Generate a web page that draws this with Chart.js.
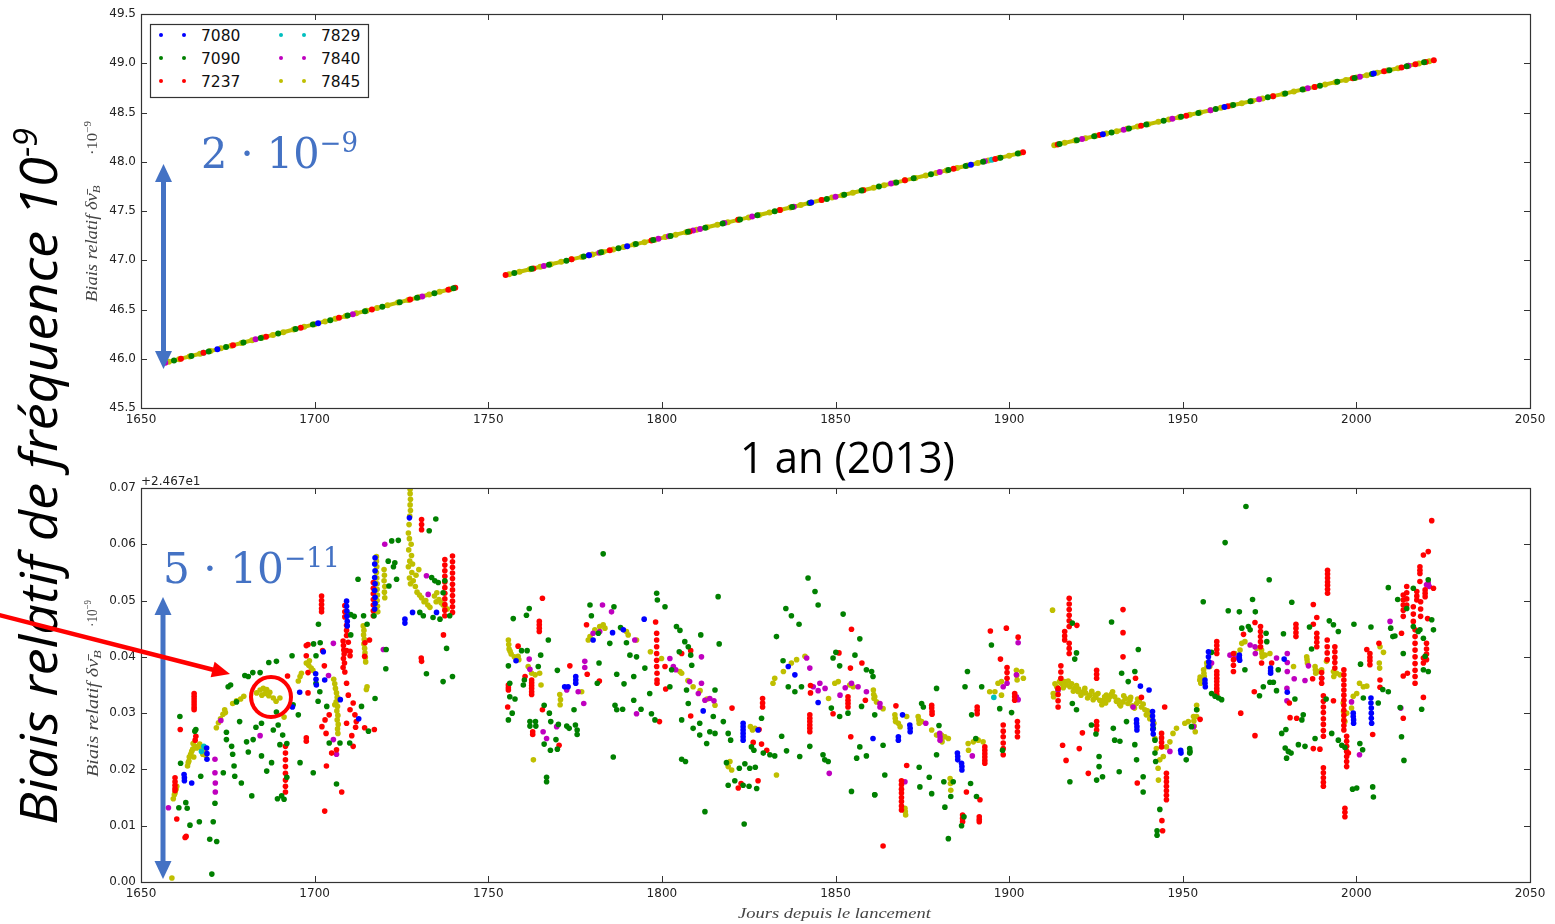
<!DOCTYPE html>
<html>
<head>
<meta charset="utf-8">
<script src="https://cdn.jsdelivr.net/npm/chart.js@4.4.0/dist/chart.umd.min.js"></script>
<style>
  body { margin: 0; background: #fff; width: 1555px; height: 924px; overflow: hidden; position: relative; }
  canvas { position: absolute; left: 0; }
  #topChart { top: 0; }
  #bottomChart { top: 470px; }
  #notes { position: absolute; left: 0; top: 0; }
</style>
</head>
<body>
<canvas id="topChart" width="1555" height="440"></canvas>
<canvas id="bottomChart" width="1555" height="454"></canvas>
<svg id="notes" width="1555" height="924" xmlns="http://www.w3.org/2000/svg">
  <g id="legend"></g>

  <!-- axis labels -->
  <g fill="#444" font-family="Liberation Serif, serif" font-style="italic">
    <text id="ylabTop" font-size="16" transform="translate(97,302) rotate(-90)">Biais relatif δν̄<tspan font-size="11" dy="3">B</tspan></text>
    <text id="ymulTop" font-size="15" transform="translate(97,155) rotate(-90)" font-style="normal">·10<tspan font-size="10" dy="-6">−9</tspan></text>
    <text id="ylabBot" font-size="16" transform="translate(98,777) rotate(-90)">Biais relatif δν̄<tspan font-size="11" dy="3">B</tspan></text>
    <text id="ymulBot" font-size="15" transform="translate(97,627) rotate(-90)" font-style="normal">·10<tspan font-size="10" dy="-6">−9</tspan></text>
    <text id="xlab" font-size="15" transform="translate(738,918)">Jours depuis le lancement</text>
  </g>
  <text x="141" y="485" font-family="DejaVu Sans" font-size="12" fill="#222">+2.467e1</text>

  <!-- big annotations -->
  <text id="bigLab" font-family="Open Sans" font-style="italic" font-size="52" fill="#000"
        transform="translate(57,825) rotate(-90)">Biais relatif de fréquence 10<tspan font-size="32" dy="-20">-9</tspan></text>
  <text id="year" font-family="Open Sans" font-size="44" fill="#000" transform="translate(740,473)">1 an (2013)</text>

  <g fill="#4472C4" font-family="DejaVu Serif">
    <text id="amp1" font-size="43" transform="translate(201,168)">2 · 10<tspan font-size="27" dy="-16">−9</tspan></text>
    <text id="amp2" font-size="43" transform="translate(163,583)">5 · 10<tspan font-size="27" dy="-16">−11</tspan></text>
  </g>

  <!-- blue double arrows -->
  <g fill="#4472C4" stroke="none">
    <rect x="161" y="178" width="5" height="176"/>
    <polygon points="163.5,164 155,182 172,182"/>
    <polygon points="163.5,369 155,351 172,351"/>
    <rect x="160.5" y="611" width="5" height="254"/>
    <polygon points="163,597 154.5,615 171.5,615"/>
    <polygon points="163,879 154.5,861 171.5,861"/>
  </g>

  <!-- red arrow and circle -->
  <line x1="-5" y1="614" x2="214" y2="670" stroke="#ff0000" stroke-width="4.5"/>
  <polygon points="230,674 210.6,677.3 214.6,661.7" fill="#ff0000"/>
  <circle cx="271" cy="697" r="20" fill="none" stroke="#ff0000" stroke-width="4"/>
</svg>

<script>
// series
var seriesNames = ['7080', '7090', '7237', '7829', '7840', '7845'];
var seriesColors = ['#0000ff', '#008000', '#ff0000', '#00bfbf', '#bf00bf', '#bfbf00'];

// top panel: raw relative frequency bias (1e-9), [day, value]
var top7080 = [[1672,46.097],[1701,46.36],[1779,47.051],[1790,47.143],[1843,47.586],[1889,47.97],[1927,48.279],[1962,48.555],[2005,48.895]];
var top7090 = [[1659.5,45.983],[1664.5,46.028],[1669.5,46.074],[1674.5,46.119],[1679.5,46.165],[1684.5,46.21],[1689.5,46.256],[1694.5,46.301],[1699.5,46.347],[1704.5,46.392],[1709.5,46.438],[1714.5,46.483],[1719.5,46.529],[1724.5,46.574],[1729.5,46.62],[1734.5,46.665],[1740,46.715],
  [1757.5,46.871],[1762.5,46.913],[1767.5,46.955],[1772.5,46.996],[1777.5,47.038],[1782.5,47.08],[1787.5,47.122],[1792.5,47.164],[1797.5,47.205],[1802.5,47.247],[1807.5,47.289],[1812.5,47.331],[1817.5,47.373],[1822.5,47.414],[1827.5,47.456],[1832.5,47.498],[1837.5,47.54],[1842.5,47.582],[1847.5,47.623],[1852.5,47.665],[1857.5,47.707],[1862.5,47.749],[1867.5,47.79],[1872.5,47.832],[1877.5,47.874],[1882.5,47.916],[1887.5,47.958],[1892.5,47.999],[1897.5,48.041],[1902.5,48.083],
  [1914.5,48.18],[1919.5,48.219],[1924.5,48.259],[1929.5,48.298],[1934.5,48.338],[1939.5,48.377],[1944.5,48.417],[1949.5,48.456],[1954.5,48.496],[1959.5,48.535],[1964.5,48.575],[1969.5,48.614],[1974.5,48.654],[1979.5,48.693],[1984.5,48.733],[1989.5,48.772],[1994.5,48.812],[1999.5,48.851],[2004.5,48.891],[2009.5,48.93],[2014.5,48.97],[2019.5,49.01]];
var top7237 = [[1661.5,46.0],[1668,46.06],[1676.5,46.137],[1686,46.224],[1696,46.315],[1707,46.415],[1716.5,46.501],[1727.5,46.601],[1738.5,46.701],[1740.5,46.72],
  [1755,46.85],[1763,46.917],[1774,47.009],[1785,47.101],[1797,47.2],[1808,47.293],[1822,47.41],[1834,47.51],[1846,47.611],[1858,47.711],[1870,47.811],[1884,47.929],[1896,48.029],[1904,48.096],
  [1914,48.176],[1926,48.271],[1938,48.365],[1951,48.468],[1963,48.563],[1976,48.666],[1988,48.76],[1999,48.847],[2008,48.918],[2013,48.958],[2017,48.99],[2020,49.013],[2022.3,49.031]];
var top7829 = [[1668,46.06],[1895,48.02]];
var top7840 = [[1657,45.96],[1683,46.197],[1711,46.452],[1731,46.633],
  [1766,46.942],[1779,47.051],[1782,47.076],[1799,47.218],[1802,47.243],[1809,47.301],[1811,47.318],[1818,47.377],[1826,47.444],[1838,47.544],[1850,47.644],[1866,47.778],[1880,47.895],[1893,48.004],
  [1921,48.231],[1933,48.326],[1947,48.437],[1958,48.523],[1972,48.634],[1986,48.745],[2001,48.863],[2015,48.974]];
var top7845 = [[1658,45.969],[1661,45.996],[1664,46.024],[1667,46.051],[1670,46.078],[1673,46.106],[1676,46.133],[1679,46.16],[1682,46.188],[1685,46.215],[1688,46.242],[1691,46.269],[1694,46.297],[1697,46.324],[1700,46.351],[1703,46.379],[1706,46.406],[1709,46.433],[1712,46.461],[1715,46.488],[1718,46.515],[1721,46.542],[1724,46.57],[1727,46.597],[1730,46.624],[1733,46.652],[1736,46.679],[1739,46.706],
  [1756,46.858],[1759,46.883],[1762,46.909],[1765,46.934],[1768,46.959],[1771,46.984],[1774,47.009],[1777,47.034],[1780,47.059],[1783,47.084],[1786,47.109],[1789,47.134],[1792,47.159],[1795,47.184],[1798,47.209],[1801,47.235],[1804,47.26],[1807,47.285],[1810,47.31],[1813,47.335],[1816,47.36],[1819,47.385],[1822,47.41],[1825,47.435],[1828,47.46],[1831,47.485],[1834,47.51],[1837,47.535],[1840,47.561],[1843,47.586],[1846,47.611],[1849,47.636],[1852,47.661],[1855,47.686],[1858,47.711],[1861,47.736],[1864,47.761],[1867,47.786],[1870,47.811],[1873,47.836],[1876,47.861],[1879,47.887],[1882,47.912],[1885,47.937],[1888,47.962],[1891,47.987],[1894,48.012],[1897,48.037],[1900,48.062],[1903,48.087],
  [1913,48.168],[1916,48.192],[1919,48.215],[1922,48.239],[1925,48.263],[1928,48.286],[1931,48.31],[1934,48.334],[1937,48.358],[1940,48.381],[1943,48.405],[1946,48.429],[1949,48.452],[1952,48.476],[1955,48.5],[1958,48.523],[1961,48.547],[1964,48.571],[1967,48.594],[1970,48.618],[1973,48.642],[1976,48.666],[1979,48.689],[1982,48.713],[1985,48.737],[1988,48.76],[1991,48.784],[1994,48.808],[1997,48.831],[2000,48.855],[2003,48.879],[2006,48.903],[2009,48.926],[2012,48.95],[2015,48.974],[2018,48.997],[2021,49.021]];

// bottom panel: corrected bias, offset +24.67 (1e-9)
var bot7080 = [[1662.4,0.0191],[1662.5,0.0185],[1662.5,0.018],[1664.6,0.0176],[1668.9,0.0238],[1669,0.0228],[1669,0.0218],[1695.7,0.0337],[1693.6,0.0311],[1700.3,0.037],[1700.4,0.036],[1700.5,0.035],[1702.9,0.0359],[1707.4,0.0324],[1712.7,0.029],[1702.5,0.0409],
  [1709.2,0.0499],[1709.2,0.049],[1709.3,0.0481],[1709.3,0.0472],[1709.4,0.0463],[1709.4,0.0455],
  [1717.4,0.0576],[1717.3,0.0565],[1717.4,0.0553],[1717.3,0.0541],[1717.4,0.053],[1717.3,0.0518],[1717.4,0.0506],[1717.4,0.0495],[1717.3,0.0485],
  [1727.3,0.0647],[1726,0.0467],[1726,0.046],[1728.2,0.0479],[1735.1,0.0479],
  [1758,0.0393],[1772,0.0347],[1773,0.0347],[1775.2,0.0365],[1775.2,0.0359],[1775.2,0.0353],[1780.2,0.043],[1785.8,0.0443],[1788.9,0.0448],[1794.9,0.0467],[1811.9,0.0304],
  [1823.4,0.0282],[1823.4,0.0276],[1823.4,0.027],[1823.4,0.0264],[1823.4,0.0258],[1823.4,0.0252],[1827.7,0.027],[1836.4,0.0383],[1838.3,0.0368],[1845,0.0319],[1860.8,0.0255],
  [1869.3,0.0297],[1868.1,0.0258],[1868.1,0.0252],[1871.4,0.0279],[1871.5,0.0273],[1871.5,0.0267],[1885.1,0.0229],[1885.2,0.0223],[1885.2,0.0217],[1886.3,0.0211],[1886.4,0.0205],[1886.4,0.0199],
  [1936.7,0.0288],[1936.7,0.0282],[1936.8,0.0276],[1936.8,0.027],[1937.8,0.0348],[1940.3,0.0341],[1941.3,0.0303],[1941.3,0.0295],[1941.4,0.0287],[1941.4,0.0279],[1941.4,0.0271],[1941.5,0.0263],[1949.4,0.0234],[1949.5,0.0229],
  [1957.4,0.0409],[1957.4,0.04],[1957.5,0.0391],[1957.5,0.0383],[1956.4,0.0359],[1956.4,0.0353],[1956.5,0.0347],[1966.3,0.0403],[1966.3,0.0398],[1966.4,0.0394],[1975.3,0.038],[1975.3,0.0375],[1975.3,0.0371],[1979.2,0.0396],[1980.1,0.0337],
  [1999.1,0.03],[1999.1,0.0294],[1999.2,0.0288],[1999.2,0.0282],[2004.2,0.0327],[2004.2,0.0318],[2004.3,0.0309],[2004.3,0.03],[2004.3,0.0291],[2004.4,0.0282]];

var bot7090 = [[1661.2,0.0294],[1661.4,0.0211],[1660.9,0.0132],[1662.9,0.0141],[1663.3,0.0131],[1664.1,0.0101],[1665.5,0.0268],[1665.8,0.0271],[1666.8,0.0107],[1667.2,0.0188],[1669.8,0.0076],[1670.8,0.0107],[1671.8,0.0072],[1670.4,0.0014],[1671.3,0.014],[1673.7,0.0194],[1674.6,0.0266],[1675.1,0.0347],[1675.8,0.035],[1674.6,0.0253],[1676.4,0.0227],[1676.1,0.0241],[1676.8,0.0206],[1677,0.0188],[1677.5,0.032],
  [1679.9,0.0367],[1680.9,0.0365],[1682.2,0.0372],[1684.3,0.0372],[1686.8,0.039],[1689,0.0392],[1693.5,0.0402],[1678.4,0.0285],[1678.9,0.0176],[1680.4,0.0249],[1680.9,0.0231],[1681.9,0.0153],[1682.3,0.0253],[1683.1,0.0275],[1684.7,0.0282],[1684.7,0.0224],[1686.2,0.0197],[1687.6,0.0212],[1688.1,0.027],[1689,0.0302],[1689.5,0.0279],[1690,0.0244],[1690.8,0.0261],[1690.5,0.0153],[1691.2,0.0147],[1689.3,0.0148],[1692,0.0246],[1692,0.0186],
  [1693.8,0.0315],[1695.3,0.0297],[1695.8,0.0212],[1699.6,0.0194],[1700.4,0.0353],[1701,0.0321],[1701.5,0.0338],[1703.5,0.0312],[1704.2,0.0247],[1706.3,0.0174],[1707.3,0.0247],[1710.1,0.0247],[1713.5,0.0312],[1715.5,0.0268],[1717.4,0.0326],[1720.5,0.0379],[1732.2,0.037],[1737,0.0356],[1738,0.0415],[1739.7,0.0365],
  [1701.1,0.0458],[1701.6,0.0425],[1699.7,0.0423],[1700.4,0.0402],[1710.4,0.0475],[1711.4,0.0472],[1710.4,0.0439],[1712.5,0.0538],[1714.1,0.0473],[1715.1,0.0458],[1717.1,0.0473],[1722.2,0.0606],[1724.1,0.0607],[1721.2,0.057],[1723.1,0.0567],[1722.7,0.056],[1721.4,0.0526],[1723.6,0.0538],[1734.9,0.0645],[1733,0.0624],[1733.7,0.0541],[1734.6,0.0535],[1735.6,0.0532],[1737.5,0.0535],[1730.3,0.0479],[1731.3,0.0473],[1734.1,0.047],[1736.1,0.0467],[1738.9,0.0473],[1737,0.0514],[1720.6,0.0413],
  [1757.2,0.0468],[1761,0.0474],[1761.8,0.0486],[1755.8,0.0384],[1756.2,0.0353],[1756.2,0.0329],[1755.8,0.0288],[1756.9,0.03],[1757.7,0.0325],[1760.1,0.035],[1760.4,0.0359],[1759.6,0.0411],[1761.2,0.0411],[1764.4,0.0383],[1765.1,0.0403],[1767.3,0.043],[1769.9,0.0376],[1762,0.0285],[1762,0.0277],[1763.6,0.0285],[1763.7,0.0277],[1766.1,0.0314],[1766.8,0.0178],[1766.8,0.0186],[1767.6,0.03],[1768,0.0285],[1766.1,0.0245],[1767.9,0.0234],[1769.5,0.0253],[1769.9,0.0236],[1770.2,0.028],[1772.6,0.0277],[1773.3,0.0273],[1775.1,0.0279],[1775.6,0.027],[1775.6,0.0262],[1774.7,0.0306],
  [1786,0.0222],[1779.3,0.0492],[1779.7,0.0473],[1781.7,0.0442],[1781.9,0.0389],[1781.4,0.0353],[1783.1,0.0583],[1786.2,0.0489],[1785,0.0424],[1787,0.0369],[1789.1,0.0352],[1786.5,0.0314],[1787,0.0306],[1788.7,0.0307],[1788.1,0.0452],[1789.8,0.0425],[1790.8,0.0403],[1792.7,0.04],[1791.9,0.0365],[1791.9,0.0323],[1794,0.0307],[1795.1,0.038],[1796.5,0.0335],[1797,0.0299],[1798,0.0288],[1798.5,0.0513],[1798.7,0.0501],[1800.9,0.0489],[1802.3,0.0347],[1802.8,0.0377],
  [1804.2,0.0454],[1805.2,0.0447],[1805,0.0409],[1806.6,0.0427],[1807.6,0.0418],[1808.3,0.0403],[1808.6,0.0385],[1807.1,0.0341],[1807.6,0.0317],[1805.7,0.0288],[1805.7,0.0218],[1806.8,0.0214],[1809,0.0273],[1810.9,0.0282],[1810.9,0.0261],[1811.2,0.0439],[1812.9,0.0246],[1813.8,0.0267],[1815.3,0.0264],[1815.3,0.0341],[1816.2,0.0507],[1816.5,0.0423],[1814.8,0.0294],[1817.7,0.0285],[1819.1,0.0264],[1819.8,0.0252],[1818.6,0.0212],[1819.1,0.0172],[1821,0.018],[1822.3,0.0202],[1823.9,0.021],[1823.4,0.0172],[1825.1,0.017],[1825.3,0.0202],[1826.9,0.0204],[1827.3,0.0166],[1825.8,0.024],[1826.5,0.0234],
  [1828.7,0.0291],[1829.2,0.0229],[1831.1,0.0226],[1832.5,0.0224],[1834.5,0.0259],[1835.9,0.0233],[1837.3,0.0473],[1835.7,0.0486],[1833,0.0436],[1834.9,0.0393],[1836.4,0.0347],[1838.3,0.0338],[1840.2,0.0347],[1839.7,0.0223],[1842.6,0.0241],[1842.1,0.054],[1844.1,0.0516],[1845,0.0492],[1839.5,0.0458],[1846.4,0.0226],[1846.9,0.0217],[1847.9,0.0214],[1849.3,0.0398],[1850.1,0.0408],[1851.2,0.0384],[1852.2,0.0476],[1855.6,0.0403],[1857,0.0432],[1858.9,0.0377],[1860.8,0.0365],[1857,0.024],[1856.1,0.022],[1858.9,0.0224],[1861.3,0.0155],[1854.6,0.0161],[1848.8,0.0309],[1851.2,0.0294],[1853.6,0.03],[1857.5,0.0312],[1812.4,0.0125],[1823.7,0.0103],
  [1860.4,0.0374],[1861.3,0.0297],[1861.3,0.0155],[1863.7,0.0243],[1864.2,0.019],[1874.8,0.0317],[1875.3,0.0311],[1874.1,0.0204],[1874.3,0.0169],[1877,0.0186],[1877.7,0.0157],[1879.1,0.0344],[1879.8,0.0278],[1879.1,0.0226],[1881.5,0.0133],[1882.5,0.0077],[1881.2,0.0178],[1883.2,0.0152],[1883.9,0.0178],[1886.3,0.01],[1887,0.0116],[1887.3,0.0347],[1888,0.0374],[1888.9,0.0175],[1890.6,0.0152],[1892.1,0.0347],[1889.2,0.0297],[1890.4,0.0255],[1894.9,0.0421],[1897.3,0.0308],[1898.1,0.0234],[1900.7,0.0301],
  [1918.2,0.046],[1919.4,0.0407],[1918.9,0.0396],[1918.2,0.0317],[1919.4,0.0306],[1917.5,0.0178],[1923.7,0.0279],[1925,0.0263],[1925.9,0.0223],[1925.9,0.0205],[1925.2,0.0181],[1926.9,0.0187],[1929.5,0.0462],[1930,0.0273],[1930.4,0.0252],[1931.9,0.025],[1931.7,0.0196],[1932.4,0.0371],[1934.3,0.0356],[1933.8,0.0285],[1936.2,0.0244],[1936.7,0.0217],[1937.2,0.0413],[1936.2,0.0374],[1938.6,0.0187],[1938.6,0.016],[1941.5,0.0273],[1942,0.0252],[1942,0.0229],[1942.2,0.0214],[1943.4,0.0129],[1942.6,0.0091],[1942.6,0.0083],[1952,0.0237],[1952,0.0229],[1951,0.0217],[1952.5,0.0276],
  [1955.9,0.0498],[1962.2,0.0603],[1968.2,0.0667],[1974.9,0.0537],[1970.1,0.0502],[1970.9,0.048],[1963.1,0.0482],[1966.3,0.048],[1967,0.0451],[1968.9,0.0454],[1969.4,0.0448],[1974,0.0442],[1974.2,0.0427],[1967.9,0.0377],[1958.3,0.0408],[1958.3,0.0335],[1959.3,0.033],[1960.3,0.0327],[1961.2,0.0324],[1954,0.0306],[1952.1,0.0232],[1972.1,0.0331],[1973.2,0.0347],[1975.1,0.0355],[1976.1,0.0355],[1977.5,0.0377],[1977,0.034],[1979,0.0441],[1979.7,0.0271],[1978.5,0.0264],[1979.5,0.0238],[1980.4,0.0232],[1979.9,0.022],[1981.4,0.0497],[1981.2,0.0229],[1982.3,0.0325],[1983.3,0.0244],[1984.7,0.0297],[1984.3,0.0288],[1985.2,0.0241],[1986.5,0.0453],[1987.1,0.0414],[1988.1,0.0255],[1991.3,0.0325],[1992.2,0.0464],[1993.4,0.0457],[1994.8,0.0445],[1992.9,0.0264],[1994.8,0.0252],[1995.8,0.0243],[1996.7,0.0239],
  [1998.9,0.0165],[2000.1,0.0167],[1999.3,0.0458],[2001,0.0246],[2001.8,0.0235],[2001.2,0.0387],[2002,0.0327],[2004.2,0.0453],[2004.7,0.0169],[2004.9,0.0151],[2006.3,0.0318],[2007.6,0.0342],[2009.2,0.0523],[2009.2,0.0338],[2009.9,0.0451],[2010.5,0.0436],[2011.1,0.0437],[2011.9,0.0502],[2012.6,0.031],[2013,0.0258],[2013.7,0.0216],[2013.5,0.0406],[2014.5,0.0486],[2016.4,0.0522],[2016.4,0.0454],[2017.8,0.0445],[2018.3,0.0448],[2019.3,0.0433],[2019.3,0.0377],[2020.7,0.0374],[2020.7,0.0537],[2021.7,0.0466],[2022.2,0.0448],[2018.8,0.0307],[2019.8,0.0401]];

var bot7237 = [[1665.3,0.0335],[1665.3,0.033],[1665.3,0.0325],[1665.3,0.032],[1665.3,0.0315],[1665.3,0.031],[1665.3,0.0306],[1661.3,0.0271],[1665.8,0.0259],[1665.6,0.0252],[1659.8,0.0185],[1659.8,0.0178],[1659.8,0.0172],[1659.8,0.0166],[1659.8,0.0162],[1660.3,0.0112],[1662.7,0.0079],[1663,0.0081],
  [1697.6,0.042],[1697.6,0.0402],[1698.1,0.0372],[1698.1,0.0336],[1697.6,0.0256],[1697.6,0.025],
  [1691.6,0.0241],[1691.6,0.0229],[1691.6,0.0217],[1691.6,0.0205],[1691.6,0.0193],[1691.6,0.0181],[1691.6,0.017],[1691.6,0.016],[1692.2,0.0366],
  [1702.1,0.0276],[1703,0.0288],[1703.3,0.0264],[1704.2,0.0297],[1702.9,0.0126],[1707.8,0.016],[1706.3,0.0235],[1704.9,0.0229],[1703.4,0.0206],
  [1708.2,0.0428],[1708.3,0.042],[1708.4,0.0412],[1708.5,0.0405],[1708.3,0.0397],[1708.6,0.0389],[1708.2,0.0381],[1708.7,0.0373],
  [1709.2,0.0353],[1709.7,0.0332],[1709.2,0.0282],[1710.2,0.0306],[1711.1,0.0318],[1711.6,0.0297],[1710.7,0.026],[1711.1,0.0241],[1712,0.0285],[1711.8,0.0275],
  [1717.2,0.0271],[1714.4,0.0274],[1714.4,0.0401],[1715.8,0.043],[1714.5,0.0425],[1730.7,0.0398],[1730.8,0.0392],
  [1702,0.0508],[1702,0.05],[1702,0.0493],[1702,0.0486],[1702,0.048],[1698.1,0.0422],[1702.3,0.0411],[1702.8,0.0384],
  [1708.7,0.0491],[1708.7,0.048],[1708.7,0.0471],[1709.2,0.0456],[1709.2,0.0447],[1709.2,0.0438],[1709.7,0.0426],[1709.2,0.0411],[1710.2,0.0402],[1710.2,0.041],
  [1716.9,0.0532],[1716.9,0.0522],[1716.9,0.0512],[1716.9,0.0502],[1716.9,0.0492],[1716.9,0.0482],[1716.9,0.0473],
  [1730.8,0.0644],[1730.8,0.0635],[1730.8,0.0626],
  [1737.5,0.0573],[1737.5,0.0563],[1737.5,0.0553],[1737.5,0.0543],[1737.5,0.0533],[1737.5,0.0523],[1737.5,0.0513],[1737.5,0.0503],[1737.5,0.0493],[1737.5,0.0483],[1737.5,0.0473],
  [1739.7,0.0579],[1739.7,0.0569],[1739.7,0.0559],[1739.7,0.0549],[1739.7,0.0539],[1739.7,0.0529],[1739.7,0.0519],[1739.7,0.0509],[1739.7,0.0499],[1739.7,0.0489],[1739.7,0.0479],[1737.1,0.0439],
  [1765.6,0.0504],[1764.7,0.0463],[1764.7,0.0457],[1764.7,0.0451],[1764.7,0.0445],[1758.6,0.0419],[1755.8,0.035],[1755.8,0.0345],[1755.8,0.0341],[1755.6,0.0311],[1760.6,0.0365],
  [1762.5,0.0359],[1762.5,0.0354],[1762.5,0.0349],[1762.5,0.0344],[1762.5,0.0338],[1762.5,0.0333],[1762.8,0.0267],[1762.8,0.0262],[1765.6,0.0306],[1770.4,0.0243],[1773.5,0.0384],[1778.5,0.0369],[1782,0.0357],[1778.3,0.0457],[1798.2,0.0462],
  [1798.5,0.0442],[1798.5,0.043],[1798.5,0.0418],[1798.5,0.0406],[1798.5,0.0394],[1798.5,0.0383],[1798.6,0.0371],[1798.6,0.0359],[1798.6,0.0353],
  [1799.3,0.0285],[1800.9,0.0383],[1801.1,0.0343],[1805.7,0.0406],[1808.3,0.0411],[1808.3,0.0295],[1820.2,0.0309],[1826.3,0.0248],[1828,0.0271],[1829,0.0326],[1829,0.0318],[1829,0.0311],[1830.2,0.0234],[1827.7,0.018],[1822,0.0167],[1822.8,0.0175],[1828.7,0.0245],
  [1854.6,0.0449],[1851,0.0407],[1854.3,0.038],[1853.6,0.0329],[1853.6,0.0323],[1853.6,0.0317],[1853.6,0.0311],[1842.8,0.0349],[1842.8,0.0336],[1842.6,0.0297],[1842.6,0.0291],[1842.6,0.0285],[1842.6,0.0279],[1842.6,0.0273],[1842.6,0.0267],[1849.3,0.0299],[1854.4,0.0258],[1857.6,0.0389],[1858.6,0.0323],
  [1863.7,0.0064],[1867.4,0.0313],[1870.5,0.0207],[1869,0.018],[1869,0.0173],[1869,0.0165],[1869,0.0158],[1869,0.015],[1869,0.0143],[1869,0.0135],[1869,0.0128],
  [1877.7,0.0314],[1877.7,0.0309],[1877.8,0.0303],[1877.8,0.0298],[1887.7,0.016],[1886.6,0.0119],[1886.6,0.0113],[1886.6,0.0107],[1891.6,0.0146],[1891.4,0.0116],[1891.4,0.0111],[1891.4,0.0107],[1890.8,0.0311],[1890.8,0.0305],[1890.8,0.0299],
  [1893,0.024],[1893,0.0234],[1893,0.0228],[1893,0.0222],[1893,0.0216],[1893,0.0211],[1894.6,0.0446],[1899.2,0.0451],[1897.5,0.0396],
  [1898.3,0.0279],[1898.3,0.0268],[1898.3,0.0258],[1898.3,0.0247],[1898.3,0.0237],[1898.3,0.0226],[1899.4,0.0381],[1899.4,0.0372],[1899.4,0.0362],[1901.6,0.0335],[1901.6,0.0329],[1901.6,0.0323],[1902.4,0.0285],[1902.4,0.0276],[1902.4,0.0267],[1902.4,0.0258],[1902.6,0.0435],
  [1914.9,0.0384],[1914.9,0.0373],[1914.9,0.0362],[1914.1,0.0344],[1914.1,0.0333],[1914.1,0.0322],[1914.1,0.0311],[1916,0.0445],[1916,0.0437],[1916,0.043],
  [1917.3,0.0504],[1917.3,0.0494],[1917.3,0.0484],[1917.3,0.0474],[1917.3,0.0464],[1917.3,0.0454],[1917.3,0.0424],[1917.3,0.0415],[1917.3,0.0406],[1919.5,0.0456],[1915.4,0.0243],[1916.4,0.0216],[1921.1,0.0265],[1920.2,0.0237],[1922.8,0.0193],
  [1925.2,0.0376],[1925.2,0.0369],[1925.2,0.0362],[1925.2,0.0285],[1925.2,0.0278],[1925.2,0.027],[1932.8,0.0484],[1932.8,0.0443],[1932.8,0.04],[1936.4,0.0362],[1938.1,0.0328],[1936.9,0.0176],[1944.8,0.0311],
  [1943.9,0.0264],[1943.9,0.0256],[1943.9,0.0248],[1943.9,0.024],[1945.3,0.0193],[1945.3,0.0185],[1945.3,0.0178],[1945.3,0.017],[1945.3,0.0162],[1945.3,0.0154],[1945.3,0.0146],[1944,0.0109],[1944.2,0.0091],
  [1959.8,0.0427],[1959.8,0.042],[1959.8,0.0413],[1959.8,0.0406],[1959.8,0.0374],[1959.8,0.0368],[1959.8,0.0362],[1959.8,0.0356],[1959.8,0.035],[1959.8,0.0344],[1959.8,0.0339],[1959.8,0.0333],
  [1955,0.0289],[1964.6,0.0406],[1964.6,0.0395],[1964.6,0.0385],[1964.6,0.0374],[1966.7,0.03],[1967.5,0.044],[1970.8,0.0461],[1970.6,0.0338],[1970.8,0.026],
  [1972.4,0.0454],[1972.4,0.0445],[1972.4,0.0436],[1972.4,0.0427],[1972.4,0.0418],[1972.7,0.0389],[1975.6,0.0389],
  [1982.6,0.0458],[1982.6,0.0451],[1982.6,0.0443],[1982.6,0.0436],[1980.9,0.0292],[1980.7,0.0318],[1982.8,0.0291],[1987.6,0.0493],[1987.6,0.0458],[1988.6,0.047],[1988.6,0.0442],[1988.6,0.0434],[1988.6,0.0426],[1988.6,0.0418],[1987.4,0.0361],[1987.6,0.0237],[1989.5,0.0236],
  [1990,0.0372],[1990,0.0362],[1990,0.0353],[1990.5,0.0331],[1990.5,0.0321],[1990.5,0.0311],[1990.5,0.0301],[1990.5,0.029],[1990.5,0.028],[1990.5,0.0269],[1990.5,0.0259],
  [1990.5,0.0203],[1990.5,0.0194],[1990.5,0.0185],[1990.5,0.0177],[1990.5,0.017],
  [1991.7,0.0554],[1991.7,0.0547],[1991.7,0.054],[1991.7,0.0533],[1991.7,0.0527],[1991.7,0.052],[1991.7,0.0513],[1991.6,0.043],[1991.6,0.0418],[1991.6,0.0407],[1991.6,0.0395],
  [1993.8,0.0418],[1993.8,0.0409],[1993.8,0.0399],[1993.8,0.039],[1993.8,0.038],[1993.4,0.0322],
  [1996.4,0.0377],[1996.4,0.0368],[1996.4,0.0359],[1996.4,0.035],[1996.4,0.0341],[1996.4,0.0332],[1996.4,0.0323],[1996.4,0.0314],[1996.4,0.0305],[1996.4,0.0296],[1996.4,0.0287],[1996.4,0.0278],[1996.4,0.027],
  [1997.2,0.0259],[1997.2,0.025],[1997.2,0.0241],[1997.2,0.0232],[1997.2,0.0223],[1997.2,0.0214],[1997.2,0.0205],[1997.7,0.0229],[1996.7,0.0131],[1996.7,0.0124],[1996.7,0.0116],
  [2003,0.0413],[2003.9,0.0406],[2003.9,0.0399],[2003.9,0.0393],[2003.9,0.0386],[2004.7,0.0262],[2006.5,0.0424],[2006.8,0.0359],[2006.8,0.0346],
  [2013.5,0.0366],[2013.5,0.0291],[2014.7,0.0371],[2013,0.0442],[2013.5,0.051],[2013.5,0.0501],[2013.5,0.0492],[2013.5,0.0483],[2013.5,0.0472],
  [2014.5,0.0525],[2014.5,0.0514],[2014.5,0.0503],[2014.5,0.0492],[2016.4,0.0489],[2016.4,0.0476],[2016.4,0.0463],[2017.4,0.0516],[2017.4,0.0508],[2017.4,0.0501],
  [2016.9,0.0448],[2016.9,0.0436],[2016.9,0.0424],[2016.9,0.0412],[2016.9,0.04],[2016.9,0.0388],[2016.9,0.0376],[2016.9,0.0365],[2016.9,0.0353],
  [2018.5,0.0498],[2018.5,0.0485],[2018.5,0.0472],[2018.3,0.056],[2018.3,0.0554],[2018.3,0.0548],[2019.3,0.0581],[2019.8,0.0519],[2019.8,0.0513],[2019.8,0.0507],
  [2020.2,0.0424],[2020.2,0.0414],[2020.2,0.0405],[2020.2,0.0395],[2019.3,0.0398],[2019.3,0.0389],[2019.3,0.0328],[2020.7,0.0587],[2021.7,0.0642],[2022.2,0.0522],[2020.5,0.0468],[2018.3,0.0534]];

var bot7829 = [[1667.4,0.0232],[1668.1,0.0241],[1895.6,0.0328]];

var bot7840 = [[1657.9,0.0132],[1671.3,0.0218],[1671.3,0.0194],[1671.4,0.0176],[1671.4,0.016],[1673,0.0287],[1684.3,0.026],[1705.4,0.0424],[1704,0.0367],[1705.4,0.0253],[1706.3,0.0227],[1719.8,0.0413],[1720.2,0.06],[1732.2,0.0544],[1732.7,0.0511],
  [1761.8,0.0396],[1762,0.0378],[1772.6,0.0341],[1775.9,0.0338],[1777.8,0.0392],[1777.8,0.0381],[1777.5,0.0317],[1769.7,0.0276],[1765.8,0.0267],[1766.8,0.0255],[1782.9,0.0492],[1785.5,0.048],[1780.2,0.0442],[1782.1,0.0445],[1792.7,0.0299],[1792.2,0.043],[1802.3,0.0397],[1803.3,0.0383],[1804,0.0377],[1811.4,0.04],[1808,0.0356],[1811.4,0.0353],[1810.5,0.0335],[1813.8,0.0326],[1812.4,0.0323],[1815,0.0322],
  [1843.6,0.0347],[1845.5,0.0353],[1847,0.0344],[1851.3,0.0332],[1854.6,0.0353],[1856.5,0.0347],[1858.9,0.0338],[1848.2,0.0193],[1841.7,0.0398],[1842.6,0.038],[1845,0.034],[1852.8,0.0345],
  [1862.8,0.0317],[1862.8,0.0311],[1876,0.0282],[1880,0.0264],[1880.1,0.0258],[1880.1,0.0252],[1889.4,0.0224],[1898.3,0.0347],[1899.4,0.0353],[1902.1,0.0368],[1902.6,0.0425],[1902.1,0.0329],[1902.6,0.0324],[1870,0.0178],
  [1914.1,0.0341],[1935.7,0.0311],[1946.3,0.0232],[1953.1,0.0276],[1958.3,0.0389],[1963.6,0.0403],[1965,0.0398],[1969.4,0.0421],[1970.8,0.0418],[1970.9,0.0406],[1977,0.0398],[1980.1,0.0406],[1980.1,0.039],[1980.1,0.0374],[1980,0.0344],[1980,0.0322],[1982.1,0.0361],[1985.2,0.0358],[1986.2,0.0384],[1990,0.0362],[1998.6,0.032],[2000.9,0.0226],[2009.7,0.0463],[2012.8,0.0309],[2020.2,0.0528],[2020.7,0.0531],[2021,0.0525]];

var bot7845 = [[1658.9,0.0007],[1659.3,0.0148],[1659.6,0.0155],[1659.8,0.0158],[1660.1,0.0165],[1660.3,0.017],
  [1663.4,0.0206],[1663.6,0.0212],[1663.8,0.0215],[1664.3,0.0227],[1664.6,0.0232],[1664.9,0.0236],[1665.6,0.0241],[1666.5,0.0241],[1667.4,0.0237],[1668.2,0.0232],[1667.8,0.0227],[1666,0.0238],[1665.2,0.0222],[1666.9,0.0245],[1665,0.0246],[1663.9,0.0222],[1668.6,0.0225],
  [1671.7,0.0274],[1672.3,0.0283],[1672.9,0.029],[1673.6,0.0298],[1674.1,0.0306],[1674.3,0.0301],[1676.4,0.0317],[1677.5,0.0322],[1678.7,0.0325],[1679.6,0.033],
  [1683.3,0.0336],[1684.3,0.0341],[1685.2,0.0344],[1686.2,0.0342],[1687.1,0.0337],[1688.1,0.0327],[1688.9,0.0321],[1690,0.0327],[1685.7,0.0335],[1684.8,0.0332],[1686.8,0.0331],[1691.2,0.0293],
  [1695.3,0.0357],[1695.8,0.0365],[1696.2,0.0371],[1697.6,0.0389],[1698.3,0.0385],[1699,0.038],[1699.5,0.0376],[1698.5,0.0393],
  [1705.5,0.036],[1705.8,0.0352],[1706,0.0344],[1706.3,0.0336],[1706.5,0.0328],[1706.2,0.032],[1706.6,0.0312],[1706.4,0.0304],[1706.7,0.0296],[1706.5,0.0288],[1706.8,0.028],[1706.6,0.0272],[1706.7,0.0264],[1705.8,0.0315],[1707,0.0325],
  [1714,0.0455],[1714.2,0.0447],[1714.1,0.0439],[1714.3,0.0431],[1714.2,0.0423],[1714.4,0.0415],[1714.5,0.0407],[1714.6,0.0399],[1714.7,0.0391],[1714.9,0.0342],[1715.1,0.0347],
  [1717.8,0.0578],[1717.8,0.057],[1717.9,0.056],[1717.8,0.055],[1717.9,0.054],[1718,0.053],[1718,0.052],[1718.1,0.051],[1718,0.05],[1718.1,0.049],[1718.2,0.048],
  [1720,0.0555],[1720.1,0.0545],[1720,0.0535],[1720.2,0.0525],[1720.1,0.0515],[1720.2,0.0505],
  [1727.5,0.0698],[1727.5,0.069],[1727.6,0.068],[1727.5,0.067],[1727.6,0.066],[1727.4,0.065],[1727.2,0.0635],[1727,0.062],[1727.3,0.061],[1727.8,0.06],[1727.1,0.059],[1727.9,0.058],[1727.4,0.057],[1728.2,0.0565],[1727,0.056],[1728,0.055],[1727.3,0.054],[1728.4,0.0535],[1727.6,0.053],
  [1729,0.0525],[1729.5,0.0515],[1730.2,0.051],[1730.8,0.0505],[1731.5,0.0498],[1732,0.05],[1732.6,0.0492],[1733.2,0.0488],[1729.2,0.0545],[1730,0.0555],
  [1734.5,0.0508],[1735.2,0.0514],[1735.8,0.0502],[1736.4,0.0496],[1737,0.0492],[1737.6,0.0488],[1738.2,0.0485],[1735,0.0498],
  [1755.8,0.043],[1755.9,0.0422],[1756,0.0414],[1756.3,0.041],[1756.6,0.0405],[1757.5,0.04],[1758.6,0.0401],[1758.8,0.0395],[1761.5,0.0383],[1762.5,0.0371],[1763.5,0.0368],[1764.8,0.0371],[1765.2,0.035],[1763,0.0217],[1770.6,0.0333],[1770.8,0.0324],[1770.7,0.0315],[1776.9,0.0338],
  [1778.8,0.043],[1779.3,0.0436],[1780.7,0.0448],[1782.1,0.0454],[1783.1,0.0457],[1783.6,0.0451],[1789.8,0.0445],[1790.3,0.0439],[1792.7,0.043],[1796.7,0.0409],[1799.9,0.0397],[1805.2,0.0374],[1805.7,0.0371],[1807.5,0.0358],[1809,0.0347],[1811,0.034],[1813,0.0325],[1815.3,0.0314],
  [1819.1,0.0205],[1819.6,0.0214],[1820.1,0.0199],[1825.5,0.0276],[1826.1,0.027],[1826.8,0.0273],[1833,0.019],[1832,0.0353],[1832.5,0.0362],[1835,0.0374],[1837.3,0.0389],[1838.8,0.0395],[1841.2,0.0401],[1849.8,0.0353],[1850.8,0.0356],[1854.1,0.035],[1855.1,0.0347],[1861.3,0.0329],[1848,0.0326],
  [1860.9,0.0341],[1861,0.0333],[1861.1,0.0326],[1861.8,0.032],[1863.7,0.0308],[1867.1,0.0297],[1867.2,0.0291],[1867.3,0.0285],[1868.1,0.0282],[1868.6,0.0276],[1870.5,0.0294],[1873.8,0.0294],[1874,0.0288],[1874.1,0.0282],[1874.8,0.0285],[1877.7,0.027],[1879.1,0.0261],[1880.5,0.0261],[1880.6,0.0255],[1880.7,0.0249],[1881.5,0.0258],[1882.5,0.0255],
  [1883,0.0184],[1883.1,0.0175],[1883.2,0.0163],[1870,0.0131],[1870.1,0.0125],[1870.2,0.0119],[1888.2,0.0246],[1888.3,0.0234],[1889.7,0.0249],[1891.1,0.0252],[1892.5,0.0249],[1894.4,0.0338],[1895.9,0.0338],[1896.8,0.0353],[1897.8,0.0356],[1897.8,0.0332],[1902.1,0.0376],[1902.2,0.0367],[1902.3,0.0359],[1903.6,0.0374],[1904.1,0.0362],
  [1912.5,0.0483],[1912.7,0.0335],[1912.8,0.0329],[1913.7,0.0347],[1914,0.034],[1915.1,0.0353],[1916,0.0356],[1916.5,0.035],[1917.5,0.0347],[1918,0.0352],[1918.9,0.0344],[1919.9,0.0338],[1920,0.0343],[1921.3,0.0338],[1922,0.0336],[1923.2,0.0332],[1924.7,0.0332],[1925,0.0328],[1926.1,0.0323],[1927.1,0.0323],[1927.8,0.0318],[1928,0.0332],[1929,0.0329],[1929.5,0.0334],[1930.4,0.0329],[1931.4,0.0323],[1931.8,0.0316],[1932.8,0.032],[1933.5,0.0326],[1934.8,0.0323],[1935.5,0.0313],[1936.7,0.0317],[1937.5,0.0321],[1938.1,0.0311],[1939.1,0.0306],[1939.5,0.0297],[1940,0.03],[1940.5,0.029],[1941,0.0294],[1941.7,0.0282],
  [1913.2,0.0352],[1914.5,0.0356],[1915.6,0.0345],[1917,0.0357],[1918.5,0.0339],[1919.4,0.0349],[1920.7,0.0332],[1921.8,0.0344],[1922.6,0.0327],[1923.8,0.0339],[1924.2,0.0324],[1925.6,0.0335],[1926.7,0.0315],[1927.5,0.0329],[1928.6,0.0324],[1929.8,0.0338],[1930.9,0.0321],[1932.1,0.0313],[1933,0.0331],[1934.2,0.0317],[1935,0.0328],[1936.1,0.0309],[1937,0.0325],[1938.6,0.0316],[1939.8,0.0304],[1940.8,0.0298],[1941.3,0.0287],
  [1942,0.0255],[1942.4,0.0237],[1942.9,0.0202],[1943.4,0.0217],[1944.4,0.0223],[1943,0.0181],[1945.3,0.024],[1946.3,0.0249],[1947.2,0.0264],[1948.2,0.0273],[1950.6,0.0282],[1951.6,0.0285],[1954,0.0294],[1954.9,0.0359],
  [1953.1,0.0294],[1953.2,0.0286],[1953.3,0.0277],[1953.6,0.0267],[1954,0.0314],[1954.1,0.0306],[1955,0.0364],[1955.1,0.0358],[1955.2,0.0353],[1956,0.0377],[1956.1,0.0371],[1956.2,0.0365],[1956.9,0.0389],[1957,0.0383],[1957.8,0.0383],
  [1965,0.0406],[1966.5,0.0412],[1967,0.0424],[1967.9,0.0427],[1971.3,0.0415],[1972.7,0.0412],[1972.8,0.0406],[1972.9,0.04],[1973.7,0.0403],[1975.1,0.0406],[1981.9,0.0383],[1985.7,0.04],[1985.8,0.0395],[1985.9,0.0389],[1988.1,0.0383],[1988.2,0.0377],[1988.3,0.0371],[1989.1,0.0374],[1990,0.0377],[1991.4,0.0392],[1993.4,0.0374],[1993.5,0.0365],[1994.3,0.0371],[1995.3,0.0368],
  [1996.2,0.0318],[1996.3,0.0303],[1996.4,0.0288],[1997.2,0.03],[1996.7,0.0285],[1998.6,0.0309],[1999.1,0.033],[2000.1,0.0335],[2000.9,0.0353],[2002,0.0347],[2003,0.0348],[2006.8,0.0418],[2006.6,0.0389],[2006.7,0.038],[2007.8,0.0408]];

var topSeries = [top7080, top7090, top7237, top7829, top7840, top7845];
var botSeries = [bot7080, bot7090, bot7237, bot7829, bot7840, bot7845];
var xTicks = [1650, 2050, 50];
var topYTicks = [45.5, 49.5, 0.5];
var botYTicks = [0, 0.07, 0.01];

// frame and inward ticks on all four sides, matplotlib style
var frameTicks = {
  id: 'frameTicks',
  afterDatasetsDraw: function(chart) {
    var ctx = chart.ctx, a = chart.chartArea;
    var sx = chart.scales.x, sy = chart.scales.y;
    ctx.save();
    ctx.strokeStyle = '#333';
    ctx.lineWidth = 1;
    ctx.beginPath();
    sx.ticks.forEach(function(t) {
      var p = Math.round(sx.getPixelForValue(t.value)) + 0.5;
      ctx.moveTo(p, a.bottom); ctx.lineTo(p, a.bottom - 6);
      ctx.moveTo(p, a.top); ctx.lineTo(p, a.top + 6);
    });
    sy.ticks.forEach(function(t) {
      var p = Math.round(sy.getPixelForValue(t.value)) + 0.5;
      ctx.moveTo(a.left, p); ctx.lineTo(a.left + 6, p);
      ctx.moveTo(a.right, p); ctx.lineTo(a.right - 6, p);
    });
    ctx.stroke();
    ctx.lineWidth = 1.2;
    ctx.strokeRect(Math.round(a.left) + 0.5, Math.round(a.top) + 0.5, Math.round(a.right - a.left), Math.round(a.bottom - a.top));
    ctx.restore();
  }
};

// convert pairs to points, breaking the trace where the record has a gap
function toPoints(pts, breakGap) {
  var out = [];
  pts.forEach(function(p, k) {
    if (breakGap && k > 0 && p[0] - pts[k - 1][0] > breakGap) out.push({ x: null, y: null });
    out.push({ x: p[0], y: p[1] });
  });
  return out;
}

function makeDatasets(list, radius, bandIndex) {
  return list.map(function(pts, i) {
    var band = (i === bandIndex);
    return {
      label: seriesNames[i],
      data: toPoints(pts, band ? 8 : 0),
      backgroundColor: seriesColors[i],
      borderColor: seriesColors[i],
      borderWidth: band ? 4 : 0,
      pointBorderWidth: 0,
      showLine: band,
      spanGaps: false,
      order: band ? 1 : 0,
      pointRadius: radius,
      pointHoverRadius: radius
    };
  });
}

function makeChart(id, datasets, yt, digits, padTop, xHeight) {
  var tickFont = { family: 'DejaVu Sans', size: 12 };
  return new Chart(document.getElementById(id), {
    type: 'scatter',
    data: { datasets: datasets },
    plugins: [frameTicks],
    options: {
      responsive: false,
      animation: false,
      events: [],
      layout: { padding: { left: 0, right: 25, top: padTop, bottom: 0 } },
      plugins: { legend: { display: false }, tooltip: { enabled: false } },
      scales: {
        x: {
          type: 'linear', min: xTicks[0], max: xTicks[1],
          afterFit: function(s) { s.height = xHeight; },
          grid: { display: false, drawTicks: false },
          border: { display: false },
          ticks: { stepSize: xTicks[2], padding: 5, color: '#222', font: tickFont, autoSkip: false, maxRotation: 0,
                   callback: function(v) { return String(v); } }
        },
        y: {
          min: yt[0], max: yt[1],
          afterFit: function(s) { s.width = 141; },
          grid: { display: false, drawTicks: false },
          border: { display: false },
          ticks: { stepSize: yt[2], padding: 5, color: '#222', font: tickFont, autoSkip: false,
                   callback: function(v) { return v.toFixed(digits); } }
        }
      }
    }
  });
}

// top: the 7845 record is drawn as a continuous band underneath the other dots
makeChart('topChart', makeDatasets(topSeries, 3, 5), topYTicks, 1, 14, 32);
makeChart('bottomChart', makeDatasets(botSeries, 2.8, -1), botYTicks, 2, 18, 42);

// legend (two columns, two markers per entry)
var ns = 'http://www.w3.org/2000/svg';
var lg = document.getElementById('legend');
function el(tag, attrs, text) {
  var e = document.createElementNS(ns, tag);
  for (var k in attrs) e.setAttribute(k, attrs[k]);
  if (text) e.textContent = text;
  lg.appendChild(e);
  return e;
}
el('rect', { x: 150.5, y: 24.5, width: 218, height: 73, fill: '#fff', stroke: '#333', 'stroke-width': 1.2 });
seriesNames.forEach(function(name, i) {
  var col = Math.floor(i / 3), row = i % 3;
  var x0 = 161 + col * 120, y0 = 35 + row * 23;
  el('circle', { cx: x0, cy: y0, r: 2, fill: seriesColors[i] });
  el('circle', { cx: x0 + 23, cy: y0, r: 2, fill: seriesColors[i] });
  el('text', { x: x0 + 40, y: y0 + 6, 'font-family': 'DejaVu Sans', 'font-size': 15.5, fill: '#111' }, name);
});

// stretch annotation texts to the widths in the figure
function fitText(id, target) {
  var e = document.getElementById(id);
  var w = e.getBBox().width;
  e.setAttribute('transform', e.getAttribute('transform') + ' scale(' + (target / w).toFixed(4) + ',1)');
}
fitText('bigLab', 697);
fitText('year', 215);
fitText('amp1', 157);
fitText('amp2', 177);
fitText('ylabTop', 117);
fitText('ylabBot', 127);
fitText('ymulTop', 34);
fitText('ymulBot', 27);
fitText('xlab', 194);
</script>
</body>
</html>
